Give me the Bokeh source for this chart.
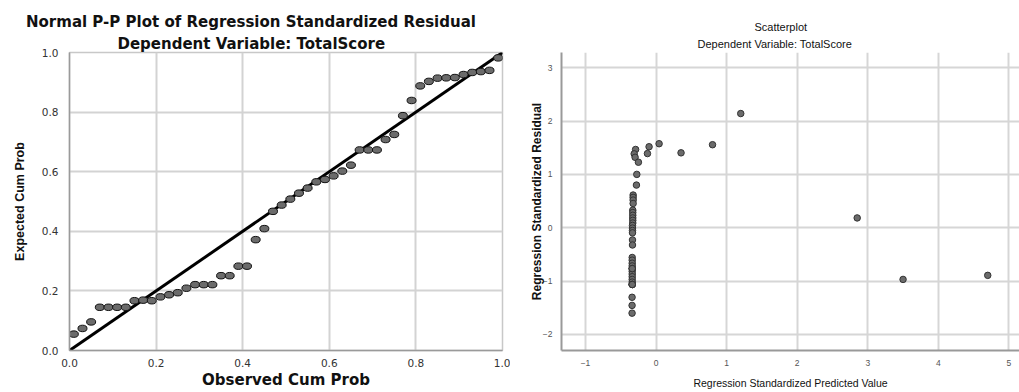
from bokeh.plotting import figure
from bokeh.models import Range1d, Title, FixedTicker, PrintfTickFormatter
from bokeh.layouts import row
from bokeh.embed import file_html
from bokeh.resources import INLINE

# ---------------- data ----------------
observed_cum_prob = [0.01, 0.03, 0.05, 0.07, 0.09, 0.11, 0.13, 0.15, 0.17, 0.19,
                     0.21, 0.23, 0.25, 0.27, 0.29, 0.31, 0.33, 0.35, 0.37, 0.39,
                     0.41, 0.43, 0.45, 0.47, 0.49, 0.51, 0.53, 0.55, 0.57, 0.59,
                     0.61, 0.63, 0.65, 0.67, 0.69, 0.71, 0.73, 0.75, 0.77, 0.79,
                     0.81, 0.83, 0.85, 0.87, 0.89, 0.91, 0.93, 0.95, 0.97, 0.99]
expected_cum_prob = [0.055, 0.074, 0.096, 0.145, 0.145, 0.145, 0.145, 0.167, 0.169, 0.167,
                     0.180, 0.187, 0.194, 0.209, 0.221, 0.221, 0.221, 0.251, 0.251, 0.283,
                     0.283, 0.372, 0.409, 0.467, 0.488, 0.508, 0.528, 0.545, 0.566, 0.574,
                     0.586, 0.602, 0.622, 0.673, 0.673, 0.673, 0.708, 0.725, 0.788, 0.839,
                     0.888, 0.903, 0.914, 0.915, 0.916, 0.926, 0.933, 0.936, 0.940, 0.982]
diag_x = [0.0, 1.0]
diag_y = [0.0, 1.0]
pp_ticks = [0.0, 0.2, 0.4, 0.6, 0.8, 1.0]

pred_value = [1.20, 0.80, 0.354, 0.043, -0.099, -0.122, -0.29, -0.31, -0.297, -0.25, -0.273, -0.278,
              -0.325, -0.325, -0.325, -0.325, -0.33, -0.33, -0.33, -0.33, -0.33, -0.33,
              -0.334, -0.334, -0.334, -0.334, -0.334, -0.334, -0.338, -0.338, -0.338, -0.338,
              -0.338, -0.338, -0.338, -0.338, -0.338, -0.338, -0.338, -0.34, -0.34, -0.34,
              -0.338, -0.338, -0.338, -0.338, -0.338,
              2.85, 3.50, 4.70]
resid_value = [2.14, 1.556, 1.404, 1.575, 1.518, 1.39, 1.467, 1.385, 1.32, 1.228, 1.0, 0.80,
               0.613, 0.569, 0.519, 0.455, 0.329, 0.285, 0.234, 0.184, 0.139, 0.089,
               0.044, -0.006, -0.051, -0.095, -0.228, -0.323, -0.557, -0.607, -0.664, -0.715,
               -0.765, -0.816, -0.867, -0.917, -0.968, -1.018, -1.063, -1.303, -1.455, -1.6,
               -1.063, -1.063, -1.063, -0.765, -0.765,
               0.184, -0.968, -0.892]
sc_xticks = [-1, 0, 1, 2, 3, 4, 5]
sc_yticks = [-2, -1, 0, 1, 2, 3]

WIDE = "DejaVu Sans"
ARIAL = "Liberation Sans"

# ---------------- left: P-P plot ----------------
p1 = figure(width=510, height=392, x_range=Range1d(0, 1), y_range=Range1d(0, 1),
            title=None, output_backend="svg", toolbar_location=None,
            min_border_left=69, min_border_right=8, min_border_top=52, min_border_bottom=38)
p1.background_fill_color = "white"
p1.border_fill_color = "white"
p1.outline_line_color = "#c8c8c8"
p1.outline_line_width = 1.5
for ax in (p1.xaxis[0], p1.yaxis[0]):
    ax.ticker = FixedTicker(ticks=pp_ticks)
    ax.formatter = PrintfTickFormatter(format="%.1f")
    ax.major_tick_line_color = None
    ax.minor_tick_line_color = None
    ax.axis_line_color = "#9a9a9a"
    ax.axis_line_width = 1.5
    ax.major_label_text_font = WIDE
    ax.major_label_text_font_size = "10.5px"
    ax.major_label_text_color = "#333333"
p1.xaxis.major_label_standoff = 2
p1.yaxis.major_label_standoff = 5
p1.xaxis.axis_label = "Observed Cum Prob"
p1.xaxis.axis_label_text_font = WIDE
p1.xaxis.axis_label_text_font_style = "bold"
p1.xaxis.axis_label_text_font_size = "15px"
p1.xaxis.axis_label_text_color = "#111111"
p1.xaxis.axis_label_standoff = 1
p1.yaxis.axis_label = "Expected Cum Prob"
p1.yaxis.axis_label_text_font = ARIAL
p1.yaxis.axis_label_text_font_style = "bold"
p1.yaxis.axis_label_text_font_size = "12.5px"
p1.yaxis.axis_label_text_color = "#111111"
p1.yaxis.axis_label_standoff = 12
p1.grid.grid_line_color = "#d3d3d3"
p1.grid.grid_line_width = 2

p1.line(diag_x, diag_y, line_color="black", line_width=3)
p1.ellipse(x=observed_cum_prob, y=expected_cum_prob, width=9, height=6.5,
           width_units="screen", height_units="screen",
           fill_color="#6b6b6b", line_color="#111111", line_width=1)

# subtitle first (closest to the frame), then main title
p1.add_layout(Title(text="Dependent Variable: TotalScore", align="left", offset=48,
                    text_font=WIDE, text_font_style="bold", text_font_size="15px",
                    text_color="#111111", standoff=0), "above")
p1.add_layout(Title(text="Normal P-P Plot of Regression Standardized Residual", align="left",
                    offset=-43.5, text_font=WIDE, text_font_style="bold",
                    text_font_size="15px", text_color="#111111", standoff=4), "above")

# ---------------- right: scatterplot ----------------
p2 = figure(width=509, height=392, x_range=Range1d(-1.34, 5.15), y_range=Range1d(-2.3, 3.284),
            title=None, output_backend="svg", toolbar_location=None,
            min_border_left=51, min_border_right=0, min_border_top=52, min_border_bottom=42)
p2.background_fill_color = "white"
p2.border_fill_color = "white"
p2.outline_line_color = None
p2.xaxis.ticker = FixedTicker(ticks=sc_xticks)
p2.yaxis.ticker = FixedTicker(ticks=sc_yticks)
for ax in (p2.xaxis[0], p2.yaxis[0]):
    ax.major_tick_line_color = None
    ax.minor_tick_line_color = None
    ax.axis_line_color = "#999999"
    ax.axis_line_width = 2
    ax.major_label_text_font = ARIAL
    ax.major_label_text_font_size = "8.5px"
    ax.major_label_text_color = "#555555"
p2.xaxis.major_label_standoff = 3
p2.yaxis.major_label_standoff = 3
p2.xaxis.axis_label = "Regression Standardized Predicted Value"
p2.xaxis.axis_label_text_font = ARIAL
p2.xaxis.axis_label_text_font_style = "normal"
p2.xaxis.axis_label_text_font_size = "10.5px"
p2.xaxis.axis_label_text_color = "#111111"
p2.xaxis.axis_label_standoff = 8
p2.yaxis.axis_label = "Regression Standardized Residual"
p2.yaxis.axis_label_text_font = ARIAL
p2.yaxis.axis_label_text_font_style = "bold"
p2.yaxis.axis_label_text_font_size = "12px"
p2.yaxis.axis_label_text_color = "#111111"
p2.yaxis.axis_label_standoff = -4
p2.grid.grid_line_color = "#d6d6d6"
p2.grid.grid_line_width = 2

p2.scatter(x=pred_value, y=resid_value, marker="circle", size=6.5,
           fill_color="#6b6b6b", line_color="#333333", line_width=1)

p2.add_layout(Title(text="Dependent Variable: TotalScore", align="left", offset=136,
                    text_font=ARIAL, text_font_style="normal", text_font_size="11px",
                    text_color="#111111", standoff=6), "above")
p2.add_layout(Title(text="Scatterplot", align="left", offset=193,
                    text_font=ARIAL, text_font_style="normal", text_font_size="11px",
                    text_color="#111111", standoff=0), "above")

layout = row(p1, p2)
open("out.html", "w").write(file_html(layout, INLINE))
